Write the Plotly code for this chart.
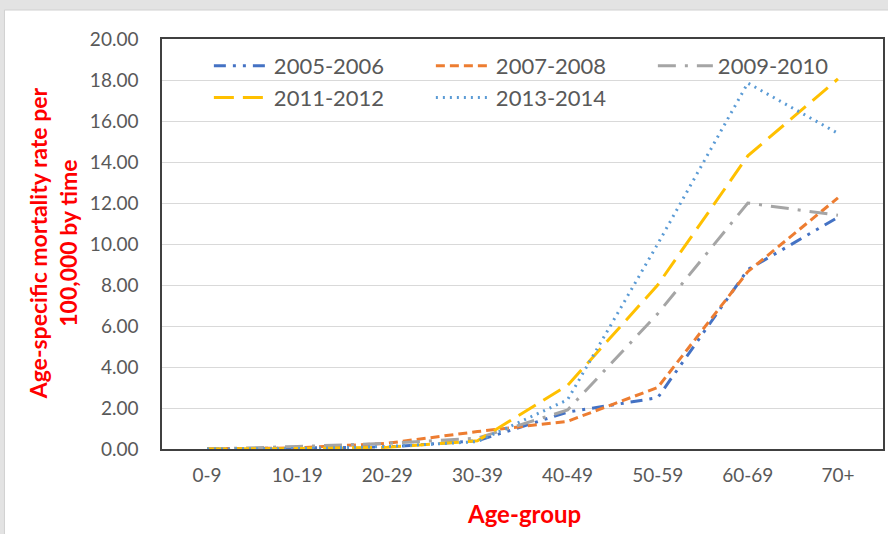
import plotly.graph_objects as go

age_groups = ["0-9", "10-19", "20-29", "30-39", "40-49", "50-59", "60-69", "70+"]
series_names = ["2005-2006", "2007-2008", "2009-2010", "2011-2012", "2013-2014"]
s_2005_2006 = [0.00, 0.04, 0.10, 0.40, 1.80, 2.50, 8.75, 11.30]
s_2007_2008 = [0.00, 0.05, 0.28, 0.85, 1.35, 3.00, 8.65, 12.25]
s_2009_2010 = [0.00, 0.12, 0.28, 0.53, 1.90, 6.60, 12.00, 11.40]
s_2011_2012 = [0.00, 0.02, 0.08, 0.40, 3.10, 8.00, 14.30, 18.05]
s_2013_2014 = [0.00, 0.02, 0.12, 0.36, 2.40, 10.00, 17.85, 15.40]
y_ticks = [0, 2, 4, 6, 8, 10, 12, 14, 16, 18, 20]

series_values = [s_2005_2006, s_2007_2008, s_2009_2010, s_2011_2012, s_2013_2014]
colors = ["#4472C4", "#ED7D31", "#A5A5A5", "#FFC000", "#5B9BD5"]
dashes = ["12px,7px,3px,7px,3px,7px", "9px,5px", "18px,9px,3px,9px", "20px,9px", "2px,5px"]

W, H = 888, 534
ml, mr, mt, mb = 162, 3, 39, 85
pw, ph = W - ml - mr, H - mt - mb

def px_x(p):
    return (p - ml) / pw

def px_y(p):
    return (H - mb - p) / ph

fig = go.Figure()
for name, vals, col, dash in zip(series_names, series_values, colors, dashes):
    fig.add_trace(go.Scatter(
        x=age_groups, y=vals, name=name, mode="lines",
        line=dict(color=col, width=3, dash=dash),
    ))

font_family = "Lato, Open Sans, sans-serif"
fig.update_layout(
    width=W, height=H,
    margin=dict(l=ml, r=mr, t=mt, b=mb),
    paper_bgcolor="#e3e3e3",
    plot_bgcolor="white",
    font=dict(family=font_family, color="#595959"),
    showlegend=True,
    legend=dict(
        orientation="h", x=px_x(209), y=px_y(45), xanchor="left", yanchor="top",
        entrywidth=152, entrywidthmode="pixels", itemwidth=55,
        font=dict(size=22, color="#595959"), bgcolor="rgba(0,0,0,0)",
        tracegroupgap=0,
    ),
    shapes=[dict(
        type="rect", xref="paper", yref="paper", layer="below",
        x0=px_x(4), x1=px_x(892), y0=px_y(538), y1=px_y(10),
        fillcolor="white", line=dict(color="#d0d0d0", width=1),
    )],
    annotations=[
        dict(text="<b>Age-group</b>", xref="paper", yref="paper",
             x=px_x(525), y=px_y(513), xanchor="center", yanchor="middle",
             showarrow=False,
             font=dict(size=24, color="#FF0000", family=font_family)),
        dict(text="<b>Age-specific mortality rate per<br>100,000 by time</b>",
             xref="paper", yref="paper", x=px_x(53), y=px_y(243),
             xanchor="center", yanchor="middle",
             showarrow=False, textangle=-90,
             font=dict(size=23, color="#FF0000", family=font_family)),
    ],
)
fig.update_xaxes(
    type="category", range=[-0.5, 7.5], showgrid=False,
    showline=True, mirror=True, linecolor="#404040", linewidth=1.5,
    ticks="", tickfont=dict(size=19, color="#595959"), ticklabelstandoff=8,
)
fig.update_yaxes(
    range=[0, 20], tickvals=y_ticks, tickformat=".2f",
    showgrid=True, gridcolor="#d9d9d9", gridwidth=1,
    showline=True, mirror=True, linecolor="#404040", linewidth=1.5,
    ticks="", tickfont=dict(size=19, color="#595959"), ticklabelstandoff=18,
    zeroline=False,
)
fig.write_html("out.html", config={"displayModeBar": False},
               post_script="document.body.style.margin='0';document.body.style.padding='0';")
